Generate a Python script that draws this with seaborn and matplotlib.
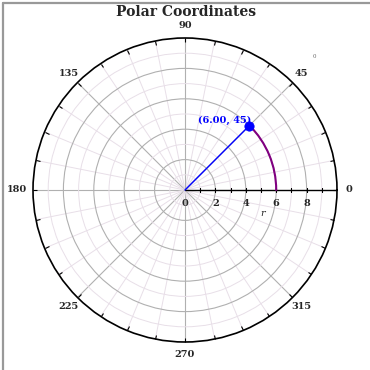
"""
plot.py - polar coordinates chart (point at r=6, theta=45 deg)
"""

import numpy as np
import matplotlib
matplotlib.use("Agg")
import matplotlib.pyplot as plt
from matplotlib.lines import Line2D
import seaborn as sns

# --- data ---
point_r = 6.0
point_theta = 45
arc_theta = [0, 45]
arc_r = [6, 6]
ray_theta = [45, 45]
ray_r = [0, 6]
r_ticks = [0, 2, 4, 6, 8]
r_minor = [1, 2, 3, 4, 5, 6, 7, 8, 9]
angle_labels = [0, 45, 90, 135, 180, 225, 270, 315]
theta_step = 11.25

sns.set_style("white")
serif = ["DejaVu Serif"]

fig = plt.figure(figsize=(3.7, 3.7), dpi=100)
ax = fig.add_axes([33 / 370, 28 / 370, 304 / 370, 304 / 370], projection="polar")
ax.set_ylim(0, 10)

# grid: circles at each r, spokes every 11.25 deg
theta_grid = np.arange(0, 360, theta_step)
ax.set_thetagrids(theta_grid, labels=[""] * len(theta_grid))
ax.set_rgrids(r_minor, labels=[""] * len(r_minor))
ax.grid(True)
for ang, gl in zip(theta_grid, ax.xaxis.get_gridlines()):
    if ang == 0:
        gl.set_visible(False)
    elif ang % 45 == 0:
        gl.set_color("#b0b0b0")
        gl.set_linewidth(0.8)
    else:
        gl.set_color("#e8dfe8")
        gl.set_linewidth(0.7)
for rv, gl in zip(r_minor, ax.yaxis.get_gridlines()):
    if rv % 2 == 0:
        gl.set_color("#b0b0b0")
        gl.set_linewidth(0.8)
    else:
        gl.set_color("#e8dfe8")
        gl.set_linewidth(0.7)

ax.tick_params(axis="x", bottom=False, top=True, direction="in", length=3, width=0.8,
               color="k", pad=0)
ax.tick_params(axis="y", length=0)
ax.spines["polar"].set_color("k")
ax.spines["polar"].set_linewidth(1.2)

# r axis along theta = 0
ax.plot([0, 0], [0, 10], color="k", lw=1.0, zorder=3)
ax.plot(np.zeros(len(r_minor)), r_minor, ls="none", marker="|", ms=2.5, mew=0.8,
        color="k", zorder=3)
for rv in r_ticks:
    ax.annotate(str(rv), xy=(0, rv), xytext=(0, -13), textcoords="offset pixels",
                ha="center", va="center", fontsize=7, fontweight="bold", family=serif,
                annotation_clip=False)
ax.annotate("r", xy=(0, 5.1), xytext=(0, -23), textcoords="offset pixels",
            ha="center", va="center", fontsize=7, style="italic", family=serif,
            annotation_clip=False)

# angle labels round the rim
for ang in angle_labels:
    rr = 11.05 if ang == 180 else 10.8
    ax.text(np.deg2rad(ang), rr, str(ang), ha="center", va="center", fontsize=7,
            fontweight="bold", family=serif, clip_on=False)
ax.text(np.deg2rad(45.9), 12.2, "0", ha="center", va="center", fontsize=4,
        color="#666666", family=serif, clip_on=False)

# ray, arc and point
sns.lineplot(x=np.deg2rad(ray_theta), y=ray_r, ax=ax, color="#0000ff", lw=1.0,
             sort=False, estimator=None, zorder=4)
sns.lineplot(x=np.deg2rad(arc_theta), y=arc_r, ax=ax, color="#800080", lw=1.5,
             sort=False, estimator=None, zorder=4)
# constant-r segment is drawn as an arc when the path is interpolated
ax.lines[-1].get_path()._interpolation_steps = 100
sns.scatterplot(x=[np.deg2rad(point_theta)], y=[point_r], ax=ax, color="#0000ff", s=45,
                edgecolor="#0000ff", zorder=5)
ax.annotate(f"({point_r:.2f}, {point_theta})", xy=(np.deg2rad(point_theta), point_r),
            xytext=(-25, 5), textcoords="offset pixels", ha="center", va="center",
            fontsize=7, fontweight="bold", color="#0000ff", family=serif)
ax.set_xlabel("")
ax.set_ylabel("")

fig.text(186 / 370, 1 - 12 / 370, "Polar Coordinates", ha="center", va="center",
         fontsize=10, fontweight="bold", family=serif)

# grey frame on the left and top
fig.add_artist(Line2D([3 / 370, 3 / 370], [0, 1 - 3 / 370], color="#999999", lw=1.6))
fig.add_artist(Line2D([3 / 370, 1], [1 - 3 / 370, 1 - 3 / 370], color="#999999", lw=1.6))

fig.savefig("out.png", dpi=100)
